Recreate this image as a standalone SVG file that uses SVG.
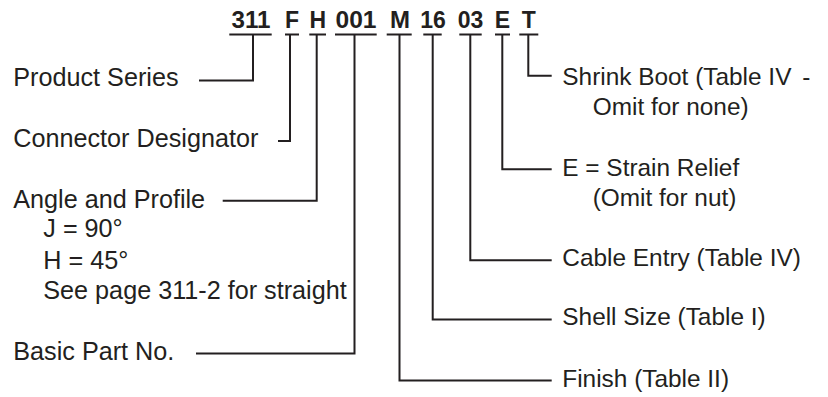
<svg xmlns="http://www.w3.org/2000/svg" width="828" height="397" viewBox="0 0 828 397">
<style>
.code{font-family:"Liberation Sans",Arial,sans-serif;font-weight:bold;font-size:23px;fill:#231f20;text-anchor:middle}
.lbl{font-family:"Liberation Sans",Arial,sans-serif;font-size:25.2px;fill:#231f20}
.rl{font-size:24.4px}
.ln{fill:none;stroke:#231f20;stroke-width:2;stroke-linejoin:miter;stroke-linecap:butt}
</style>
<rect width="828" height="397" fill="#ffffff"/>
<g id="code">
<text class="code" x="251" y="28" textLength="39" lengthAdjust="spacingAndGlyphs">311</text>
<text class="code" x="292" y="28">F</text>
<text class="code" x="317.7" y="28">H</text>
<text class="code" x="356" y="28" textLength="41" lengthAdjust="spacingAndGlyphs">001</text>
<text class="code" x="400" y="28" textLength="20" lengthAdjust="spacingAndGlyphs">M</text>
<text class="code" x="433" y="28">16</text>
<text class="code" x="470.5" y="28">03</text>
<text class="code" x="502.5" y="28">E</text>
<text class="code" x="528.8" y="28">T</text>
</g>
<g id="connectors">
<path class="ln" d="M229.3,34.5H271.7 M285,34.5H299 M309.3,34.5H326 M335,34.5H376.7 M386.7,34.5H411.7 M423.3,34.5H441.7 M459.3,34.5H481.7 M495,34.5H510 M519.3,34.5H538.3"/>
<path class="ln" d="M253,34.5V80.5H199"/>
<path class="ln" d="M290,34.5V141H278"/>
<path class="ln" d="M316.7,34.5V200.7H222.7"/>
<path class="ln" d="M354.5,34.5V353.5H196"/>
<path class="ln" d="M399.5,34.5V380.5H551.7"/>
<path class="ln" d="M432.7,34.5V319.5H551.7"/>
<path class="ln" d="M470.3,34.5V260.3H551.7"/>
<path class="ln" d="M502.3,34.5V169.3H551.7"/>
<path class="ln" d="M528.3,34.5V75.8H551.7"/>
</g>
<g id="product-series"><text class="lbl" x="13.3" y="86">Product Series</text></g>
<g id="connector-designator"><text class="lbl" x="13.3" y="147.3">Connector Designator</text></g>
<g id="angle-profile">
<text class="lbl" x="13.3" y="207.5">Angle and Profile</text>
<text class="lbl" x="43.3" y="237">J = 90°</text>
<text class="lbl" x="43.3" y="268.5">H = 45°</text>
<text class="lbl" x="43.3" y="298.5">See page 311-2 for straight</text>
</g>
<g id="basic-part"><text class="lbl" x="13.3" y="359.5">Basic Part No.</text></g>
<g id="shrink-boot">
<text class="lbl rl" x="562.3" y="84.5">Shrink Boot (Table IV <tspan dx="4">-</tspan></text>
<text class="lbl rl" x="592.7" y="114.5">Omit for none)</text>
</g>
<g id="strain-relief">
<text class="lbl rl" x="562.3" y="175.7">E = Strain Relief</text>
<text class="lbl rl" x="592.7" y="205.7">(Omit for nut)</text>
</g>
<g id="cable-entry"><text class="lbl rl" x="562.3" y="265.7">Cable Entry (Table IV)</text></g>
<g id="shell-size"><text class="lbl rl" x="562.3" y="325.2">Shell Size (Table I)</text></g>
<g id="finish"><text class="lbl rl" x="562.3" y="386.5">Finish (Table II)</text></g>
</svg>
